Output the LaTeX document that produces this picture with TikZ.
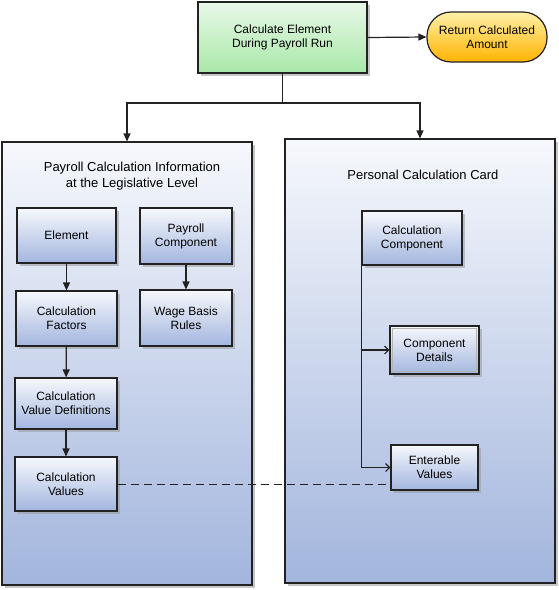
\documentclass[tikz,border=0pt]{standalone}
\usepackage{fontspec}
\setmainfont{Liberation Sans}
\usetikzlibrary{arrows.meta,shadows}
\definecolor{bluetop}{HTML}{F6F8FC}
\definecolor{bluebot}{HTML}{A2B5DD}
\definecolor{boxbot}{HTML}{A3B6DF}
\definecolor{greentop}{HTML}{E9F8E9}
\definecolor{greenbot}{HTML}{A8E8A8}
\definecolor{yeltop}{HTML}{FFF0A8}
\definecolor{yelbot}{HTML}{FFB400}
\definecolor{edge}{HTML}{222222}
\tikzset{
  x=1pt, y=-1pt,
  shadowed/.style={drop shadow={shadow xshift=2.5pt,shadow yshift=-2.5pt,fill=black!40,opacity=0.55}},
  container/.style={draw=edge,line width=1.1pt,top color=bluetop,bottom color=bluebot,shadowed,inner sep=0pt},
  bluebox/.style={draw=edge,line width=1.1pt,top color=bluetop,bottom color=boxbot,shadowed,align=center,
    font=\fontsize{12}{14}\selectfont,inner sep=0pt},
  innerline/.style={path picture={\draw[black!30,line width=0.8pt]
    ([shift={(2.5pt,-2.5pt)}]path picture bounding box.north west) rectangle
    ([shift={(-2.5pt,2.5pt)}]path picture bounding box.south east);}},
  greenbox/.style={draw=edge,line width=1.1pt,top color=greentop,bottom color=greenbot,shadowed,align=center,
    font=\fontsize{12}{14}\selectfont,inner sep=0pt},
  pill/.style={draw=edge,line width=1.2pt,top color=yeltop,bottom color=yelbot,rounded corners=24pt,align=center,
    font=\fontsize{12}{14}\selectfont,inner sep=0pt},
  titletext/.style={align=center,font=\fontsize{13}{16.5}\selectfont},
  arr/.style={line width=1.2pt,draw=edge,-{Triangle[length=8pt,width=7pt]}},
  openarr/.style={line width=1.2pt,draw=edge,-{Straight Barb[length=4pt,width=8pt]}},
  plain/.style={line width=1.2pt,draw=edge},
  dashline/.style={line width=0.9pt,draw=edge,dash pattern=on 8pt off 5pt}
}
\begin{document}
\begin{tikzpicture}
\useasboundingbox (0,0) rectangle (559,590);
% containers
\node[container,minimum width=250pt,minimum height=443pt] (left) at (127,363.5) {};
\node[container,minimum width=270pt,minimum height=444pt] (right) at (420,361) {};
% top
\node[greenbox,minimum width=169pt,minimum height=71pt] (calc) at (282.5,37.5) {Calculate Element\\During Payroll Run};
\node[pill,minimum width=120pt,minimum height=50pt] (ret) at (487,37) {Return Calculated\\Amount};
% titles
\node[titletext] (ltitle) at (132,176) {Payroll Calculation Information\\at the Legislative Level};
\node[titletext] (rtitle) at (423,175) {Personal Calculation Card};
% left boxes
\node[bluebox,minimum width=99pt,minimum height=55pt] (elem) at (66.5,235.5) {Element};
\node[bluebox,minimum width=92pt,minimum height=56pt] (pcomp) at (186,236) {Payroll\\Component};
\node[bluebox,minimum width=101pt,minimum height=55pt] (cfact) at (66.5,318.5) {Calculation\\Factors};
\node[bluebox,minimum width=92pt,minimum height=56pt] (wage) at (186,318) {Wage Basis\\Rules};
\node[bluebox,minimum width=102pt,minimum height=51pt] (cvd) at (66,403.5) {Calculation\\Value Definitions};
\node[bluebox,minimum width=102pt,minimum height=54pt] (cv) at (66,484) {Calculation\\Values};
% right boxes
\node[bluebox,minimum width=100pt,minimum height=54pt] (ccomp) at (412,238) {Calculation\\Component};
\node[bluebox,innerline,minimum width=89pt,minimum height=48pt] (cdet) at (434.5,350) {Component\\Details};
\node[bluebox,minimum width=87pt,minimum height=45pt] (ev) at (434.5,467.5) {Enterable\\Values};
% connectors
\coordinate (j) at (282.5,103);
\draw[plain] (calc.south) -- (j);
\draw[arr] (j) -| (left.north);
\draw[arr] (j) -| (right.north);
\draw[arr] (calc.east) -- (ret.west);
\draw[arr] (elem) -- (cfact);
\draw[arr] (cfact) -- (cvd);
\draw[arr] (cvd) -- (cv);
\draw[arr] (pcomp) -- (wage);
\draw[openarr] (ccomp.south west) |- (ev.west);
\draw[openarr] (ccomp.south west |- cdet.west) -- (cdet.west);
\draw[dashline] (cv.east) -- (cv.east -| ev.west);
\end{tikzpicture}
\end{document}
